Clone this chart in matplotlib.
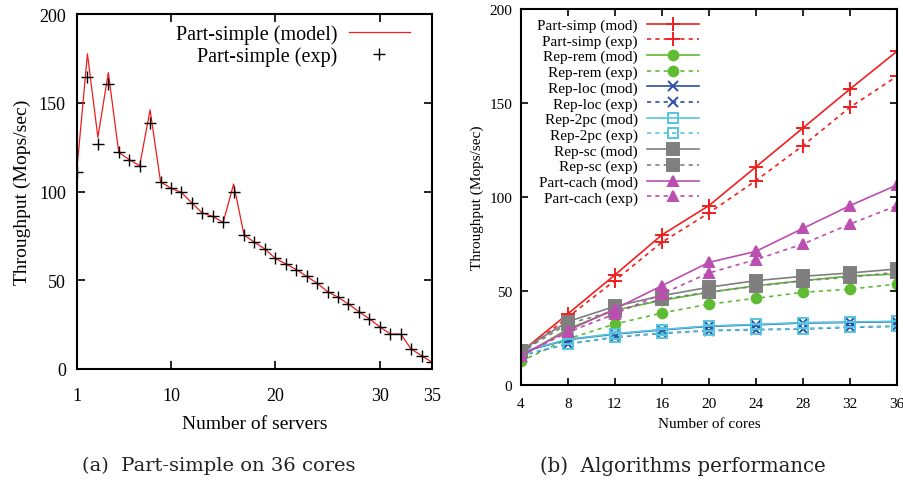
import numpy as np
import matplotlib
matplotlib.use("Agg")
import matplotlib.pyplot as plt

# (a) Part-simple on 36 cores
servers = list(range(1, 36))
ps_model = [113, 177.5, 130.5, 167, 122, 118, 114.5, 146, 105.5, 101.8, 99.5, 93.5,
            87.9, 86, 82.6, 104.2, 75.5, 71.4, 67.6, 62.3, 59.2, 56, 52.2, 48.3,
            43.6, 40.4, 36.6, 32.3, 28.2, 23.8, 19.7, 19.7, 11.3, 7.5, 3.8]
ps_exp = [111, 164.5, 127, 160.6, 122, 118, 114.5, 138.6, 105.5, 101.8, 99.5, 93.5,
          87.9, 86, 82.6, 99.5, 75.5, 71.4, 67.6, 62.3, 59.2, 56, 52.2, 48.3,
          43.6, 40.4, 36.6, 32.3, 28.2, 23.8, 19.7, 19.7, 11.3, 7.5, 3.8]

# (b) Algorithms performance
cores = [4, 8, 12, 16, 20, 24, 28, 32, 36]
part_simp_mod = [17.4, 37.8, 58.5, 79.8, 95.4, 116, 136.7, 157.4, 177.5]
part_simp_exp = [16.5, 36, 55.5, 75.9, 91.5, 108.7, 127.3, 147.7, 164.2]
rep_rem_mod = [15, 29.8, 39.8, 45, 49.3, 52.8, 55.5, 58, 59]
rep_rem_exp = [12.6, 24.5, 32.4, 38.3, 43, 46.1, 49.3, 51, 53.7]
rep_loc_mod = [17.4, 24.1, 27.1, 29.3, 31.2, 32, 33, 33.3, 33.7]
rep_loc_exp = [15.6, 21.8, 25.4, 27.5, 28.9, 29.4, 29.8, 30.7, 31.2]
rep_2pc_mod = [17.6, 24.3, 27.3, 29.5, 31.4, 32.2, 33.2, 33.5, 33.9]
rep_2pc_exp = [15.8, 22.0, 25.6, 27.7, 29.1, 29.6, 30.0, 30.9, 31.4]
rep_sc_mod = [18.3, 33.7, 41.8, 47.5, 52, 55.5, 57.8, 59.6, 61.7]
rep_sc_exp = [17.5, 32.5, 39.5, 45.5, 49.5, 52.5, 55.5, 57.3, 60]
part_cach_mod = [15.6, 28.9, 40.4, 52.8, 65.2, 71.1, 83.3, 95.4, 106.4]
part_cach_exp = [15.6, 28, 37.8, 48.4, 59.6, 66.7, 75, 85.6, 95.4]

plt.rcParams['font.family'] = ['Liberation Serif', 'DejaVu Serif']

fig = plt.figure(figsize=(9.04, 4.85), dpi=100)

# ---- left panel
ax1 = fig.add_axes([77/904, 1-370/485, 355/904, 355/485])
ax1.plot(servers, ps_model, color='#ee1c1c', lw=0.9, label='Part-simple (model)')
ax1.plot(servers, ps_exp, ls='none', marker='+', ms=9, mew=1.0, color='black',
         label='Part-simple (exp)')
ax1.set_xlim(1, 35)
ax1.set_ylim(0, 200)
ax1.set_xticks([1, 10, 20, 30, 35])
ax1.set_yticks([0, 50, 100, 150, 200])
ax1.tick_params(direction='in', top=True, right=True, length=6, width=1.2,
                labelsize=13, pad=8)
ax1.tick_params(axis='x', pad=13)
for s in ax1.spines.values():
    s.set_linewidth(1.5)
ax1.set_xlabel('Number of servers', fontsize=14, labelpad=8)
ax1.set_ylabel('Throughput (Mops/sec)', fontsize=14, labelpad=6)
ax1.legend(loc='upper right', frameon=False, markerfirst=False, fontsize=14.5,
           handlelength=3.0, handletextpad=0.6, labelspacing=0.12,
           borderaxespad=0.1, bbox_to_anchor=(0.965, 1.0))

# ---- right panel
ax2 = fig.add_axes([520.7/904, 1-386/485, 376.3/904, 376/485])
dash = (0, (2.5, 2.5))
series = [
    ('Part-simp', part_simp_mod, part_simp_exp, '#f02020', '+', 10, {}),
    ('Rep-rem', rep_rem_mod, rep_rem_exp, '#5fbb32', 'o', 7, {}),
    ('Rep-loc', rep_loc_mod, rep_loc_exp, '#2c4ea6', 'x', 7.5, {}),
    ('Rep-2pc', rep_2pc_mod, rep_2pc_exp, '#55c6e0', 's', 7.5, {'mfc': 'none'}),
    ('Rep-sc', rep_sc_mod, rep_sc_exp, '#7f7f7f', 's', 8, {}),
    ('Part-cach', part_cach_mod, part_cach_exp, '#bb4fb0', '^', 7, {}),
]
for name, mod, exp, col, mk, ms, kw in series:
    ax2.plot(cores, mod, color=col, lw=1.2, marker=mk, ms=ms, mew=1.4,
             label=name + ' (mod)', **kw)
    ax2.plot(cores, exp, color=col, lw=1.2, ls=dash, marker=mk, ms=ms, mew=1.4,
             label=name + ' (exp)', **kw)
ax2.set_xlim(4, 36)
ax2.set_ylim(0, 200)
ax2.set_xticks(cores)
ax2.set_yticks([0, 50, 100, 150, 200])
ax2.tick_params(direction='in', top=True, right=True, length=5, width=1.2,
                labelsize=11, pad=6)
ax2.tick_params(axis='x', pad=9)
for s in ax2.spines.values():
    s.set_linewidth(1.5)
ax2.set_xlabel('Number of cores', fontsize=11, labelpad=5)
ax2.set_ylabel('Throughput (Mops/sec)', fontsize=11, labelpad=4)
ax2.legend(loc='upper left', frameon=False, markerfirst=False, fontsize=11,
           handlelength=3.4, handletextpad=0.6, labelspacing=0.12,
           borderaxespad=0.2, bbox_to_anchor=(0.02, 1.0))

# captions
fig.text(219/904, 1-466/485, '(a)  Part-simple on 36 cores', family='DejaVu Serif',
         fontsize=14, ha='center', va='center', color='#222222')
fig.text(683/904, 1-466/485, '(b)  Algorithms performance', family='DejaVu Serif',
         fontsize=14.2, ha='center', va='center', color='#222222')

fig.savefig('out.png', dpi=100)
